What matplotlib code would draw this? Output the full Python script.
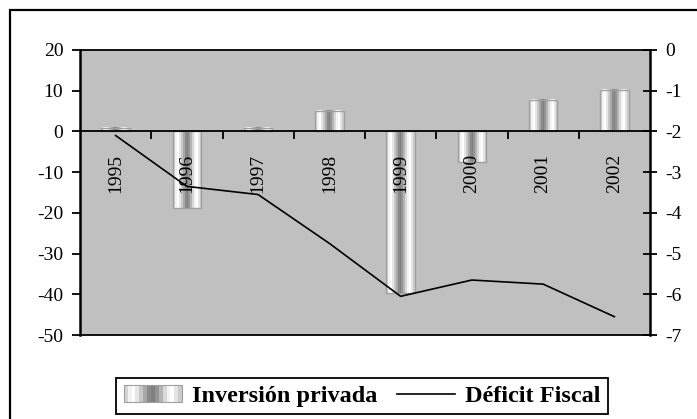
import numpy as np
import matplotlib
matplotlib.use('Agg')
import matplotlib.pyplot as plt
from matplotlib.patches import Rectangle
from matplotlib.lines import Line2D
from matplotlib.legend_handler import HandlerBase
from matplotlib.colors import ListedColormap

plt.rcParams['font.family'] = 'Liberation Serif'
plt.rcParams['axes.unicode_minus'] = False

years = ['1995', '1996', '1997', '1998', '1999', '2000', '2001', '2002']
inversion = [0.8, -18.9, 0.8, 5.1, -39.6, -7.6, 7.7, 10.2]
deficit = [-2.1, -3.35, -3.55, -4.75, -6.05, -5.65, -5.75, -6.55]

# cylinder-like shading of the bars, left to right
stripes = ['#d4d4d4', '#f2f2f2', '#ffffff', '#e6e6e6', '#c8c8c8', '#a8a8a8',
           '#8a8a8a', '#808080', '#949494', '#b4b4b4', '#d8d8d8', '#f4f4f4',
           '#ffffff', '#e4e4e4', '#cccccc']
shade = ListedColormap(stripes)

fig = plt.figure(figsize=(6.97, 4.19), dpi=100)
ax = fig.add_axes([80/697, 84/419, 570/697, 285/419])
ax2 = ax.twinx()

x = np.arange(len(years))
w = 0.4
grad = np.arange(len(stripes)).reshape(1, -1)
# bars sit under the axis artists so the year labels stay on top
for xi, v in zip(x, inversion):
    ax.imshow(grad, cmap=shade, extent=[xi - w/2, xi + w/2, 0, v],
              aspect='auto', interpolation='nearest', zorder=0.8,
              origin='lower')
ax.bar(x, inversion, width=w, facecolor='none', edgecolor='#a0a0a0',
       linewidth=1.0, zorder=1)

ax.set_xlim(-0.5, len(years) - 0.5)
ax.set_ylim(-50, 20)
ax.set_yticks(range(-50, 21, 10))
ax.set_facecolor('#c0c0c0')

ax.spines['bottom'].set_position(('data', 0))
ax.spines['bottom'].set_linewidth(1.3)
ax.spines['left'].set_linewidth(1.8)
ax.spines['top'].set_linewidth(1.3)
ax.spines['right'].set_visible(False)
ax.set_xticks(x)
ax.set_xticklabels(years, rotation=90, fontsize=14, va='top')
ax.set_xticks(x[:-1] + 0.5, minor=True)
ax.tick_params(axis='x', which='major', length=0, pad=16)
ax.tick_params(axis='x', which='minor', length=5.5, width=1.3, direction='out')
ax.tick_params(axis='y', length=6, width=1.3, direction='out', pad=6, labelsize=14)

ax2.plot(x, deficit, color='black', linewidth=1.2, zorder=4)
ax2.set_ylim(-7, 0)
ax2.set_yticks(range(-7, 1))
ax2.tick_params(axis='y', length=10, width=1.3, direction='inout', pad=6, labelsize=14)
ax2.spines['right'].set_linewidth(1.8)
ax2.spines['left'].set_visible(False)
ax2.spines['top'].set_visible(False)
ax2.spines['bottom'].set_linewidth(1.3)


class StripeHandler(HandlerBase):
    def create_artists(self, legend, orig, xd, yd, width, height, fontsize, trans):
        arts = []
        n = len(stripes)
        for i, c in enumerate(stripes):
            arts.append(Rectangle((xd + width * i / n, yd), width / n, height,
                                  facecolor=c, edgecolor='none', transform=trans))
        arts.append(Rectangle((xd, yd), width, height, facecolor='none',
                              edgecolor='#a0a0a0', linewidth=0.8, transform=trans))
        return arts


bar_h = Rectangle((0, 0), 1, 1)
line_h = Line2D([], [], color='black', linewidth=1.2)
leg = fig.legend([bar_h, line_h], ['Inversión privada', 'Déficit Fiscal'],
                 handler_map={bar_h: StripeHandler()}, ncol=2,
                 loc='center', bbox_to_anchor=(362/697, 23/419),
                 fancybox=False, edgecolor='black', framealpha=1,
                 prop={'weight': 'bold', 'size': 17.5}, handlelength=2.4,
                 handletextpad=0.4, columnspacing=0.8, borderpad=0.3,
                 borderaxespad=0)
leg.get_frame().set_linewidth(1.3)

fig.patches.append(Rectangle((10/697, -0.1), 1.0, 1.1 - 10/419, transform=fig.transFigure,
                             fill=False, edgecolor='black', linewidth=1.6))

fig.savefig('out.png', dpi=100)
